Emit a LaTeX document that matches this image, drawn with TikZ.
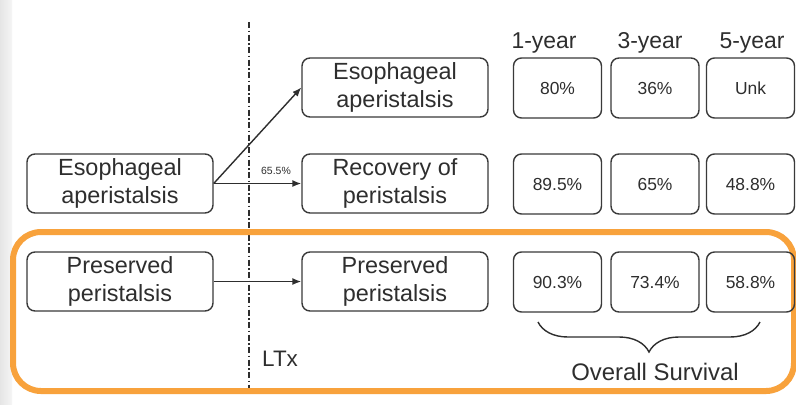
\documentclass[tikz,border=0pt]{standalone}
\usepackage{fontspec}
\setmainfont{Liberation Sans}
\usetikzlibrary{arrows.meta,decorations.pathreplacing}
\definecolor{ink}{HTML}{2E2E2E}
\definecolor{edge}{HTML}{3A3A3A}
\definecolor{frameorange}{HTML}{F8A23C}
\begin{document}
\begin{tikzpicture}[x=1bp,y=-1bp,
  stagebox/.style={draw=edge, line width=1.4bp, rounded corners=8bp, minimum width=186bp, minimum height=59bp, align=center, text=ink, font=\fontsize{23.5}{27.5}\selectfont, inner sep=0pt},
  survbox/.style={draw=edge, line width=1.4bp, rounded corners=8bp, minimum width=88bp, minimum height=60bp, text=ink, font=\fontsize{17.5}{20}\selectfont, inner sep=0pt},
  hdr/.style={text=ink, font=\fontsize{23}{26}\selectfont, anchor=base, inner sep=0pt},
  flow/.style={draw=ink, line width=1.4bp, -{Latex[length=9bp,width=7bp]}},
  lbl/.style={text=ink, inner sep=0pt}]
\useasboundingbox (0,0) rectangle (796,404);
\fill[white] (0,0) rectangle (796,404);
\shade[left color=black!10, right color=black!4] (0,0) rectangle (12,404);
% LTx line
\coordinate (ltxtop) at (249,22);
\coordinate (ltxbot) at (249,390);
\draw[ink, line width=1.4bp, dash pattern=on 6bp off 2.5bp on 1.5bp off 2.5bp] (ltxtop) -- (ltxbot);
% orange frame
\draw[frameorange, line width=6bp, rounded corners=28bp] (13,232) rectangle (794,391);
% headers
\node[hdr] (h1) at (544,48) {1-year};
\node[hdr] (h3) at (650,48) {3-year};
\node[hdr] (h5) at (752,48) {5-year};
% stage boxes
\node[stagebox] (L1) at (120,183.5) {Esophageal\\aperistalsis};
\node[stagebox] (L3) at (120,281.5) {Preserved\\peristalsis};
\node[stagebox] (M1) at (395,87.5) {Esophageal\\aperistalsis};
\node[stagebox] (M2) at (395,183.5) {Recovery of\\peristalsis};
\node[stagebox] (M3) at (395,281.5) {Preserved\\peristalsis};
% survival boxes
\node[survbox] (a1) at (557.5,88) {80\%};
\node[survbox] (a3) at (655,88) {36\%};
\node[survbox] (a5) at (750.5,88) {Unk};
\node[survbox] (b1) at (557.5,184) {89.5\%};
\node[survbox] (b3) at (655,184) {65\%};
\node[survbox] (b5) at (750.5,184) {48.8\%};
\node[survbox] (c1) at (557.5,282) {90.3\%};
\node[survbox] (c3) at (655,282) {73.4\%};
\node[survbox] (c5) at (750.5,282) {58.8\%};
% arrows
\draw[flow] (L1.east) -- (M1.west);
\draw[flow] (L1.east) -- (M2.west);
\draw[flow] (L3.east) -- (M3.west);
\node[lbl, font=\fontsize{10.5}{12}\selectfont] (pct) at (276,171) {65.5\%};
\node[lbl, font=\fontsize{22.5}{26}\selectfont, anchor=west] (ltx) at (262,359) {LTx};
% brace
\coordinate (br) at (760,322);
\coordinate (bl) at (538,322);
\draw[ink, line width=1.4bp, decorate, decoration={brace, amplitude=30bp}] (br) -- (bl);
\node[lbl, font=\fontsize{24}{26}\selectfont] (os) at (655,372) {Overall Survival};
\end{tikzpicture}
\end{document}
